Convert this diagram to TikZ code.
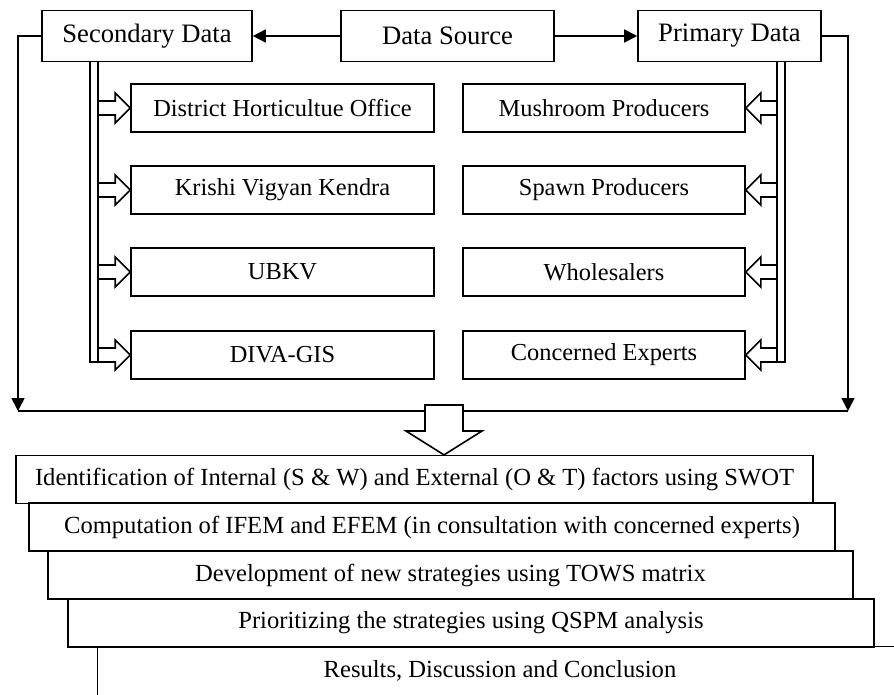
\documentclass[tikz,border=0pt]{standalone}
\usepackage{fontspec}
\setmainfont{Liberation Serif}
\usetikzlibrary{arrows.meta,calc}

\begin{document}
\begin{tikzpicture}
[x=0.5pt, y=-0.5pt, line width=0.8pt,
topbox/.style={rectangle, draw, inner sep=0pt, minimum height=25.5pt, font=\fontsize{13.3}{16}\selectfont},
secbox/.style={rectangle, draw, inner sep=0pt, minimum width=151.5pt, minimum height=24pt, font=\fontsize{12.2}{15}\selectfont},
pribox/.style={rectangle, draw, inner sep=0pt, minimum width=141pt, minimum height=24pt, font=\fontsize{12.2}{15}\selectfont},
stepbox/.style={rectangle, draw, line width=0.6pt, inner sep=0pt, minimum width=403pt, minimum height=24pt, font=\fontsize{12.3}{15}\selectfont},
hollow/.style={draw, line width=0.8pt, line join=miter},
solid/.style={-{Triangle[length=6.5pt, width=6.5pt]}}
]
\clip (0,0) rectangle (894,695);

% data source row
\node[topbox, minimum width=105pt] (sec) at (147,36) {Secondary Data};
\node[topbox, minimum width=106.5pt] (src) at (447.5,36) {Data Source};
\node[topbox, minimum width=91.5pt] (pri) at (729.5,36) {Primary Data};

\draw[solid] (src) -- (sec);
\draw[solid] (src) -- (pri);

\coordinate (lc) at (18,411);
\coordinate (rc) at (848,411);
\draw[solid] (sec.west) -| (lc);
\draw[solid] (pri.east) -| (rc);
\draw (lc) -- (rc);

% secondary sources
\node[secbox] (s1) at (282.5,108) {District Horticultue Office};
\node[secbox] (s2) at (282.5,190) {Krishi Vigyan Kendra};
\node[secbox] (s3) at (282.5,272) {UBKV};
\node[secbox] (s4) at (282.5,355) {DIVA-GIS};

% primary sources
\node[pribox] (p1) at (604,108) {Mushroom Producers};
\node[pribox] (p2) at (604,190) {Spawn Producers};
\node[pribox] (p3) at (604,272) {Wholesalers};
\node[pribox] (p4) at (604,355) {Concerned Experts};

\coordinate (lso) at (90,0);
\coordinate (lsi) at (98,0);
\coordinate (rsi) at (777,0);
\coordinate (rso) at (785,0);

\draw (sec.south -| lso) -- ($(s4.west -| lso)+(0,7)$) -- ($(s4.west -| lsi)+(0,7)$) -- (sec.south -| lsi);
\draw (pri.south -| rso) -- ($(p4.east -| rso)+(0,7)$) -- ($(p4.east -| rsi)+(0,7)$) -- (pri.south -| rsi);

\foreach \b in {s1,s2,s3,s4} {
  \draw[hollow] ($(\b.west -| lsi)+(0,-7)$) -- ($(\b.west)+(-15,-7)$) -- ($(\b.west)+(-15,-15)$) -- (\b.west)
    -- ($(\b.west)+(-15,15)$) -- ($(\b.west)+(-15,7)$) -- ($(\b.west -| lsi)+(0,7)$);
}
\foreach \b in {p1,p2,p3,p4} {
  \draw[hollow] ($(\b.east -| rsi)+(0,-7)$) -- ($(\b.east)+(15,-7)$) -- ($(\b.east)+(15,-15)$) -- (\b.east)
    -- ($(\b.east)+(15,15)$) -- ($(\b.east)+(15,7)$) -- ($(\b.east -| rsi)+(0,7)$);
}

% analysis steps
\node[stepbox, minimum width=398.5pt] (st1) at (414.5,479.5) {Identification of Internal (S \& W) and External (O \& T) factors using SWOT};
\node[stepbox] (st2) at (432,527) {Computation of IFEM and EFEM (in consultation with concerned experts)};
\node[stepbox, minimum width=402.5pt] (st3) at (450.5,575) {Development of new strategies using TOWS matrix};
\node[stepbox] (st4) at (471,623) {Prioritizing the strategies using QSPM analysis};
\node[stepbox, draw=none, minimum width=402pt] (st5) at (500,671) {Results, Discussion and Conclusion};
\draw[line width=0.6pt] (st5.north east) -- (st5.north west) -- ($(st5.south west)+(0,10)$);

\coordinate (drop) at (444,405);
\draw[hollow, fill=white] ($(drop)+(-19,0)$) -- ($(drop)+(19,0)$) -- ($(drop)+(19,26)$) -- ($(drop)+(38,26)$)
  -- (drop |- st1.north) -- ($(drop)+(-38,26)$) -- ($(drop)+(-19,26)$) -- cycle;

\end{tikzpicture}
\end{document}
